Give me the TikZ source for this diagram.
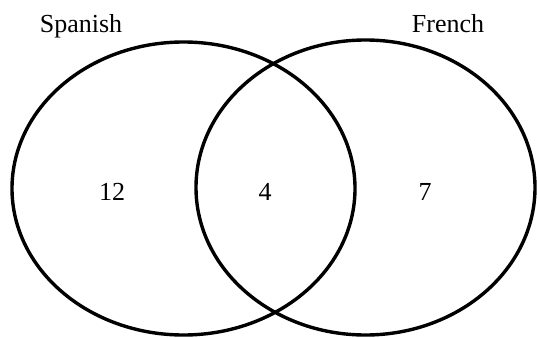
\documentclass[tikz,border=0pt]{standalone}
\usepackage{fontspec}
\setmainfont{Liberation Serif}
\usetikzlibrary{shapes.geometric}
\begin{document}
\begin{tikzpicture}[x=1pt, y=-1pt, font=\fontsize{26}{30}\selectfont]
	\tikzset{
		set/.style={draw, ellipse, line width=3.4pt, inner sep=0pt},
		count/.style={anchor=center}
	}
	\useasboundingbox (0,0) rectangle (537,337);
	
	% the two sets
	\node[set, minimum width=343pt, minimum height=293pt] (spanishset) at (183.5,188.5) {};
	\node[set, minimum width=339pt, minimum height=295pt] (frenchset) at (365.5,187.5) {};
	
	% set labels
	\node[anchor=base] (spanish) at (81,33) {Spanish};
	\node[anchor=base] (french) at (448,33) {French};
	
	% counts
	\node[count] (onlyspanish) at (112,192) {12};
	\node[count] (both) at (265,192) {4};
	\node[count] (onlyfrench) at (425,192) {7};
\end{tikzpicture}
\end{document}
